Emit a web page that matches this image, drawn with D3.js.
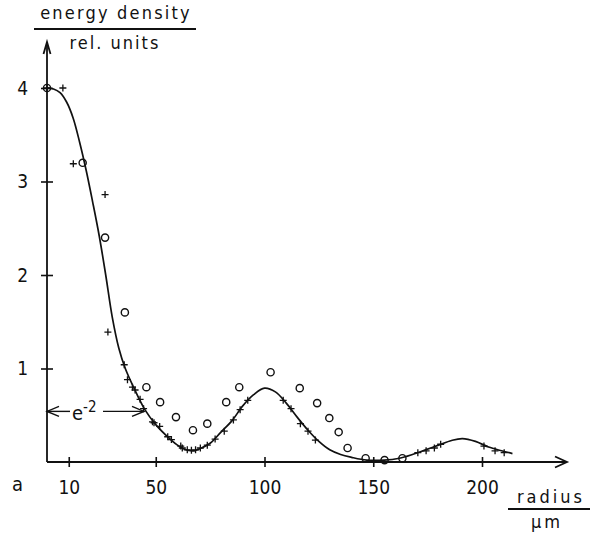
<!DOCTYPE html>
<html>
<head>
<meta charset="utf-8">
<script src="https://cdn.jsdelivr.net/npm/d3@7"></script>
<style>
  html, body { margin: 0; padding: 0; background: #fff; }
  svg text { font-family: "Liberation Sans Narrow", "DejaVu Sans Condensed", "Liberation Sans", sans-serif; fill: #111; }
</style>
</head>
<body>
<svg id="chart" width="593" height="535"></svg>
<script>
// Radial energy density profile (relative units) vs. radius in µm

// Theoretical profile (solid line)
const curveRadius = [0, 3, 6, 9, 12, 15, 18, 21, 24, 27, 30, 33, 36, 40, 45, 50, 55, 60, 63, 66, 68,
  70, 75, 80, 85, 90, 95, 100, 105, 110, 115, 120, 125, 130, 135, 140, 147, 155, 162, 168, 174,
  180, 186, 191, 197, 203, 209, 214];
const curveDensity = [4.00, 3.99, 3.95, 3.85, 3.68, 3.42, 3.12, 2.78, 2.42, 2.00, 1.55, 1.22, 1.00, 0.79, 0.56, 0.40, 0.28, 0.18, 0.14, 0.12, 0.12,
  0.14, 0.20, 0.32, 0.44, 0.60, 0.72, 0.79, 0.75, 0.63, 0.48, 0.34, 0.22, 0.13, 0.08, 0.05, 0.02, 0.02, 0.04, 0.08, 0.13,
  0.18, 0.23, 0.25, 0.22, 0.16, 0.12, 0.09];

// Measured points, "+" markers
const plusRadius = [0, 7.3, 12.1, 26.7, 28, 35.5, 37, 39.3, 40.5, 42.8, 44.4, 48.5, 49.2, 51.8, 55.5, 57.2,
  61.5, 62.2, 64.5, 66.4, 68.3, 70.5, 73.7, 77.3, 81.5, 85.7, 88.8, 92.3,
  108.6, 112.2, 116.5, 120, 123.4, 170.5, 174.3, 178.1, 181, 200.9, 206, 210.2];
const plusDensity = [4.0, 4.0, 3.19, 2.86, 1.39, 1.04, 0.88, 0.80, 0.77, 0.67, 0.57, 0.43, 0.42, 0.38, 0.27, 0.24,
  0.17, 0.15, 0.13, 0.125, 0.13, 0.15, 0.18, 0.245, 0.33, 0.45, 0.56, 0.66,
  0.66, 0.57, 0.41, 0.33, 0.235, 0.10, 0.12, 0.15, 0.19, 0.17, 0.12, 0.10];

// Measured points, open circles
const circleRadius = [0, 16.4, 26.7, 35.8, 45.7, 52, 59.3, 67.1, 73.7, 82.4, 88.4, 102.8, 116.2, 124.2, 129.8, 134.1, 138.2, 146.5, 155.2, 163.4];
const circleDensity = [4.0, 3.20, 2.40, 1.60, 0.80, 0.64, 0.48, 0.34, 0.41, 0.64, 0.80, 0.96, 0.79, 0.63, 0.47, 0.32, 0.15, 0.04, 0.02, 0.04];

// Axis ticks
const xTicks = [10, 50, 100, 150, 200];
const yTicks = [1, 2, 3, 4];

// e^-2 width marker: level = peak * e^-2, reached at this radius
const peakDensity = 4;
const e2Radius = 44.6;

const svg = d3.select("#chart");
const x = d3.scaleLinear().domain([0, 200]).range([47, 482]);
const y = d3.scaleLinear().domain([0, 4]).range([462, 88]);

const ink = "#111";

// Arrowed axis lines
const axisG = svg.append("g").attr("stroke", ink).attr("stroke-width", 1.8).attr("fill", "none");
axisG.append("line").attr("x1", x(0)).attr("y1", y(0)).attr("x2", 567).attr("y2", y(0));
axisG.append("path").attr("d", `M555,${y(0) - 5.5}L567,${y(0)}L555,${y(0) + 5.5}`);
axisG.append("line").attr("x1", x(0)).attr("y1", y(0)).attr("x2", x(0)).attr("y2", 42);
axisG.append("path").attr("d", `M${x(0) - 3.5},54L${x(0)},42L${x(0) + 3.5},54`);

// X axis ticks (crossing the axis line)
const xAxis = svg.append("g")
  .attr("transform", `translate(0,${y(0)})`)
  .call(d3.axisBottom(x).tickValues(xTicks).tickSize(5).tickPadding(14).tickFormat(d3.format("d")));
xAxis.select(".domain").remove();
xAxis.selectAll(".tick line").attr("y1", -5).attr("y2", 5).attr("stroke", ink).attr("stroke-width", 1.6);
xAxis.selectAll(".tick text").attr("font-size", 19).attr("font-family", null).attr("dy", "0.71em");

// Y axis ticks
const yAxis = svg.append("g")
  .attr("transform", `translate(${x(0)},0)`)
  .call(d3.axisLeft(y).tickValues(yTicks).tickSize(6).tickPadding(13).tickFormat(d3.format("d")));
yAxis.select(".domain").remove();
yAxis.selectAll(".tick line").attr("x1", -6).attr("x2", 6).attr("stroke", ink).attr("stroke-width", 1.6);
yAxis.selectAll(".tick text").attr("font-size", 19).attr("font-family", null);

// Solid profile line
const line = d3.line().x(d => x(d[0])).y(d => y(d[1])).curve(d3.curveCatmullRom.alpha(0.5));
svg.append("path")
  .datum(d3.zip(curveRadius, curveDensity))
  .attr("d", line)
  .attr("fill", "none").attr("stroke", ink).attr("stroke-width", 1.7);

// Open circle markers
svg.append("g").selectAll("circle")
  .data(d3.zip(circleRadius, circleDensity))
  .join("circle")
  .attr("cx", d => x(d[0])).attr("cy", d => y(d[1])).attr("r", 3.6)
  .attr("fill", "none").attr("stroke", ink).attr("stroke-width", 1.4);

// Plus markers
svg.append("g").selectAll("path")
  .data(d3.zip(plusRadius, plusDensity))
  .join("path")
  .attr("transform", d => `translate(${x(d[0])},${y(d[1])})`)
  .attr("d", "M-3.5,0H3.5M0,-3.5V3.5")
  .attr("stroke", ink).attr("stroke-width", 1.3);

// e^-2 double arrow
const yE = y(peakDensity * Math.exp(-2));
const xL = x(0), xR = x(e2Radius);
const ann = svg.append("g").attr("stroke", ink).attr("stroke-width", 1.4).attr("fill", "none");
ann.append("line").attr("x1", xL).attr("y1", yE).attr("x2", 70).attr("y2", yE);
ann.append("line").attr("x1", 103).attr("y1", yE).attr("x2", xR).attr("y2", yE);
ann.append("path").attr("d", `M${xL + 12},${yE - 5}L${xL},${yE}L${xL + 12},${yE + 5}`);
ann.append("path").attr("d", `M${xR - 12},${yE - 5}L${xR},${yE}L${xR - 12},${yE + 5}`);
const eText = svg.append("text").attr("x", 72).attr("y", yE + 9).attr("font-size", 20);
eText.append("tspan").text("e");
eText.append("tspan").attr("dy", -8).attr("font-size", 15).text("-2");

// Axis titles with fraction bars
svg.append("text").attr("x", 116).attr("y", 19).attr("text-anchor", "middle")
  .attr("font-size", 18).attr("letter-spacing", 2.2).text("energy density");
svg.append("line").attr("x1", 34).attr("x2", 196).attr("y1", 29).attr("y2", 29)
  .attr("stroke", ink).attr("stroke-width", 2);
svg.append("text").attr("x", 115).attr("y", 49).attr("text-anchor", "middle")
  .attr("font-size", 18).attr("letter-spacing", 2).text("rel. units");

svg.append("text").attr("x", 551).attr("y", 503).attr("text-anchor", "middle")
  .attr("font-size", 18).attr("letter-spacing", 3).text("radius");
svg.append("line").attr("x1", 508).attr("x2", 590).attr("y1", 509).attr("y2", 509)
  .attr("stroke", ink).attr("stroke-width", 2);
svg.append("text").attr("x", 547).attr("y", 528).attr("text-anchor", "middle")
  .attr("font-size", 18).attr("letter-spacing", 3).text("µm");

// Panel letter
svg.append("text").attr("x", 12).attr("y", 491).attr("font-size", 20).text("a");
</script>
</body>
</html>
